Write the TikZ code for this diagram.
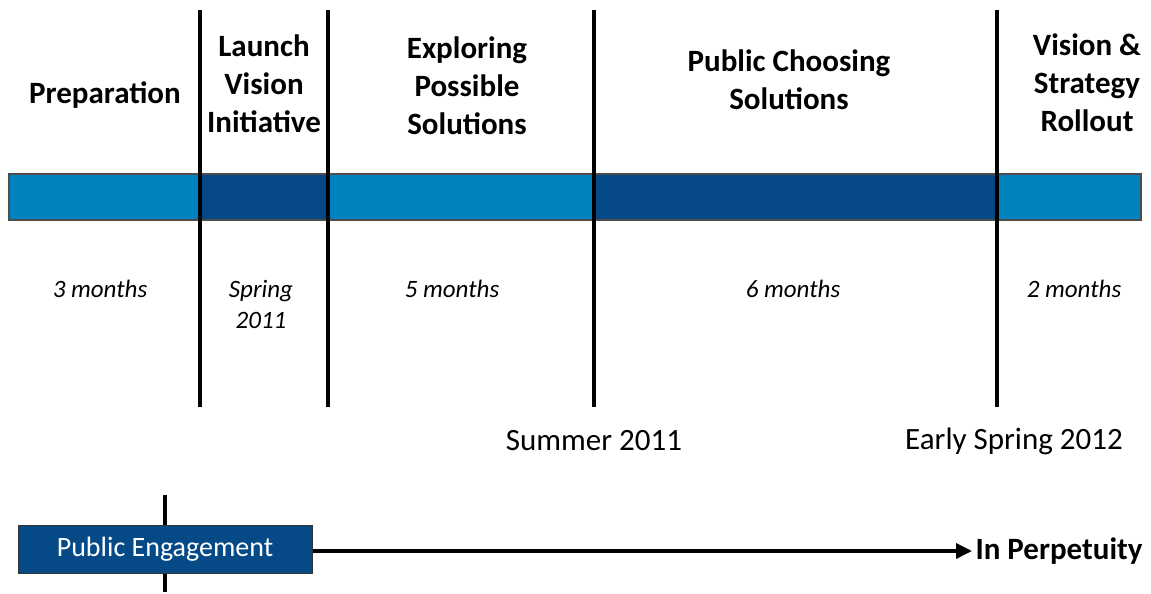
\documentclass[tikz,border=0pt]{standalone}
\usepackage{fontspec}
\setmainfont{Carlito}
\usetikzlibrary{arrows.meta}

\definecolor{barlight}{HTML}{0083BF}
\definecolor{bardark}{HTML}{054A87}

\tikzset{
  phase/.style={align=center, font=\fontsize{31}{38}\selectfont\bfseries},
  span/.style={align=center, font=\fontsize{25}{31}\selectfont\itshape},
  date/.style={font=\fontsize{31}{38}\selectfont},
  divider/.style={line width=4pt, black}
}

\begin{document}
\begin{tikzpicture}[x=1pt, y=-1pt]
		\useasboundingbox (0,0) rectangle (1151,594);

		% Colour bar segments
		\fill[barlight] (9,174) rectangle (200,220);
		\fill[bardark] (200,174) rectangle (328,220);
		\fill[barlight] (328,174) rectangle (594,220);
		\fill[bardark] (594,174) rectangle (997,220);
		\fill[barlight] (997,174) rectangle (1141,220);
		\draw[line width=1.2pt, black!70] (9,174) rectangle (1141,220);

		% Phase dividers
		\foreach \x in {200, 328, 594, 997} {
				\draw[divider] (\x,10) -- (\x,407);
			}

		% Phase titles
		\node[phase] (prep) at (105,95) {Preparation};
		\node[phase] (launch) at (264,84) {Launch\\Vision\\Initiative};
		\node[phase] (explore) at (467,86) {Exploring\\Possible\\Solutions};
		\node[phase] (choose) at (789,80) {Public Choosing\\Solutions};
		\node[phase] (rollout) at (1087,83) {Vision \&\\Strategy\\Rollout};

		% Durations
		\node[span] (dprep) at (100,289) {3 months};
		\node[span] (dlaunch) at (261,304) {Spring\\2011};
		\node[span] (dexplore) at (452,289) {5 months};
		\node[span] (dchoose) at (793,289) {6 months};
		\node[span] (drollout) at (1074,289) {2 months};

		% Milestone dates
		\node[date] (summer) at (594,441) {Summer 2011};
		\node[date] (spring) at (1014,441) {Early Spring 2012};

		% Ongoing engagement
		\draw[divider, line width=3.5pt] (165,495) -- (165,592);
		\node[draw=black!80, line width=1pt, fill=bardark, text=white,
			minimum width=294pt, minimum height=48pt,
			font=\fontsize{28}{34}\selectfont] (engage) at (165,549) {Public Engagement};
		\node[anchor=west, font=\fontsize{31}{38}\selectfont\bfseries] (perp) at (972,551) {In Perpetuity};
		\draw[line width=3.5pt, -{Triangle[length=16pt, width=15pt]}] (engage.east |- perp) -- (perp.west);
	\end{tikzpicture}
\end{document}
